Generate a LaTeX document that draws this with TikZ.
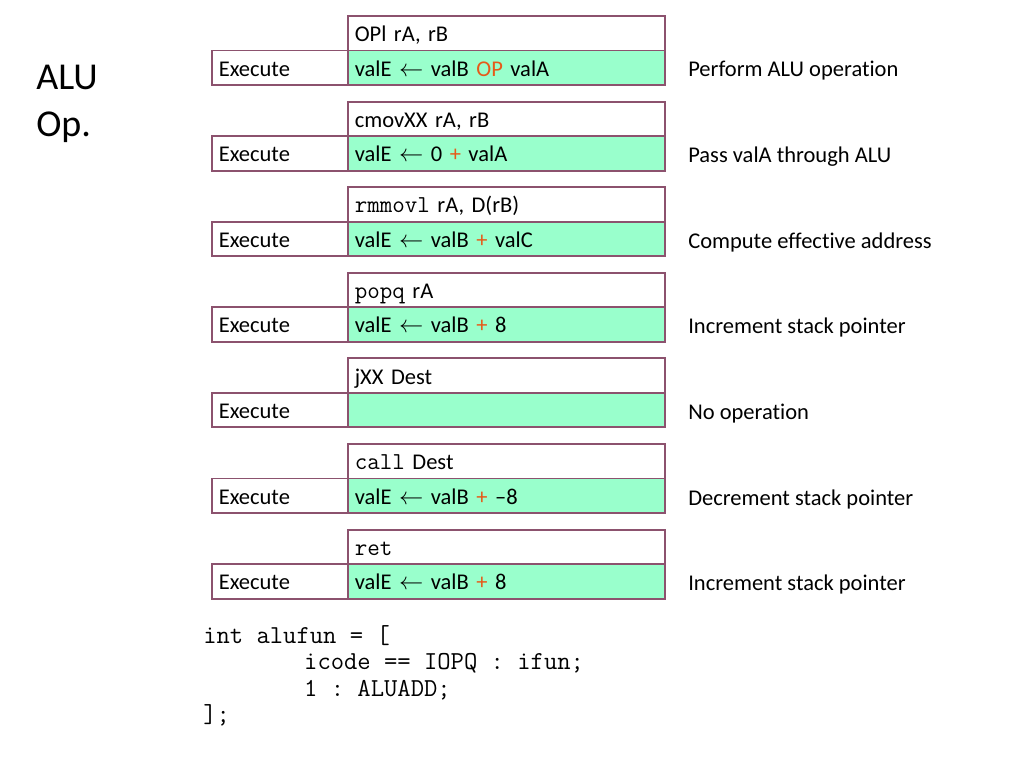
\documentclass[tikz,border=0pt]{standalone}
\usepackage{fontspec}
\setmainfont{Carlito}[Ligatures=CommonOff]

\definecolor{cellborder}{RGB}{140,82,110}
\definecolor{alugreen}{RGB}{153,255,204}
\definecolor{opred}{RGB}{230,90,25}
\newcommand{\opc}[1]{\textcolor{opred}{#1}}
\newcommand{\icode}[1]{{\ttfamily\fontsize{17.3}{18}\selectfont #1}}

\tikzset{
  cell/.style={draw=cellborder, line width=1.3pt, outer sep=0pt,
    inner xsep=0.17cm, inner ysep=0pt, text height=0.42cm, text depth=0pt,
    align=left, anchor=north west, minimum height=0.8625cm,
    font=\fontsize{16}{18}\selectfont},
  instrcell/.style={cell, text width=7.585cm, minimum width=7.925cm},
  alucell/.style={instrcell, fill=alugreen},
  stagecell/.style={cell, text width=3.06cm, minimum width=3.4cm},
  note/.style={anchor=base west, inner sep=0pt, font=\fontsize{16}{18}\selectfont},
}

\begin{document}
\begin{tikzpicture}[x=0.025cm,y=-0.025cm]
  \useasboundingbox (0,0) rectangle (1024,767);

  \node[anchor=north west, inner sep=0pt, align=left,
        font=\fontsize{27}{33.5}\selectfont] (title) at (36,65) {ALU\\Op.};

  % stage column
  \foreach \i in {0,...,6}
    \node[stagecell] (exec\i) at (212,{50.5+85.6*\i}) {Execute};

  % instructions and ALU computation
  \node[instrcell] (instr0) at (348,16) {OPl rA, rB};
  \node[alucell] (alu0) at (348,50.5) {valE $\leftarrow$ valB \opc{OP} valA};
  \node[note] (note0) at (688,77) {Perform ALU operation};

  \node[instrcell] (instr1) at (348,101.6) {cmovXX rA, rB};
  \node[alucell] (alu1) at (348,136.1) {valE $\leftarrow$ 0 \opc{+} valA};
  \node[note] (note1) at (688,162.6) {Pass valA through ALU};

  \node[instrcell] (instr2) at (348,187.2) {\icode{rmmovl} rA, D(rB)};
  \node[alucell] (alu2) at (348,221.7) {valE $\leftarrow$ valB \opc{+} valC};
  \node[note] (note2) at (688,248.2) {Compute effective address};

  \node[instrcell] (instr3) at (348,272.8) {\icode{popq} rA};
  \node[alucell] (alu3) at (348,307.3) {valE $\leftarrow$ valB \opc{+} 8};
  \node[note] (note3) at (688,333.8) {Increment stack pointer};

  \node[instrcell] (instr4) at (348,358.4) {jXX Dest};
  \node[alucell] (alu4) at (348,392.9) {};
  \node[note] (note4) at (688,419.4) {No operation};

  \node[instrcell] (instr5) at (348,444) {\icode{call} Dest};
  \node[alucell] (alu5) at (348,478.5) {valE $\leftarrow$ valB \opc{+} --8};
  \node[note] (note5) at (688,505) {Decrement stack pointer};

  \node[instrcell] (instr6) at (348,529.6) {\icode{ret}};
  \node[alucell] (alu6) at (348,564.1) {valE $\leftarrow$ valB \opc{+} 8};
  \node[note] (note6) at (688,590.6) {Increment stack pointer};

  % HCL
  \node[anchor=north west, inner sep=0pt, align=left,
        font=\ttfamily\frenchspacing\fontsize{18.4}{18.9}\selectfont] (alufun) at (203,625)
    {int alufun = [\\
     \hspace*{3.9em}icode == IOPQ : ifun;\\
     \hspace*{3.9em}1 : ALUADD;\\
     ];};
\end{tikzpicture}
\end{document}
